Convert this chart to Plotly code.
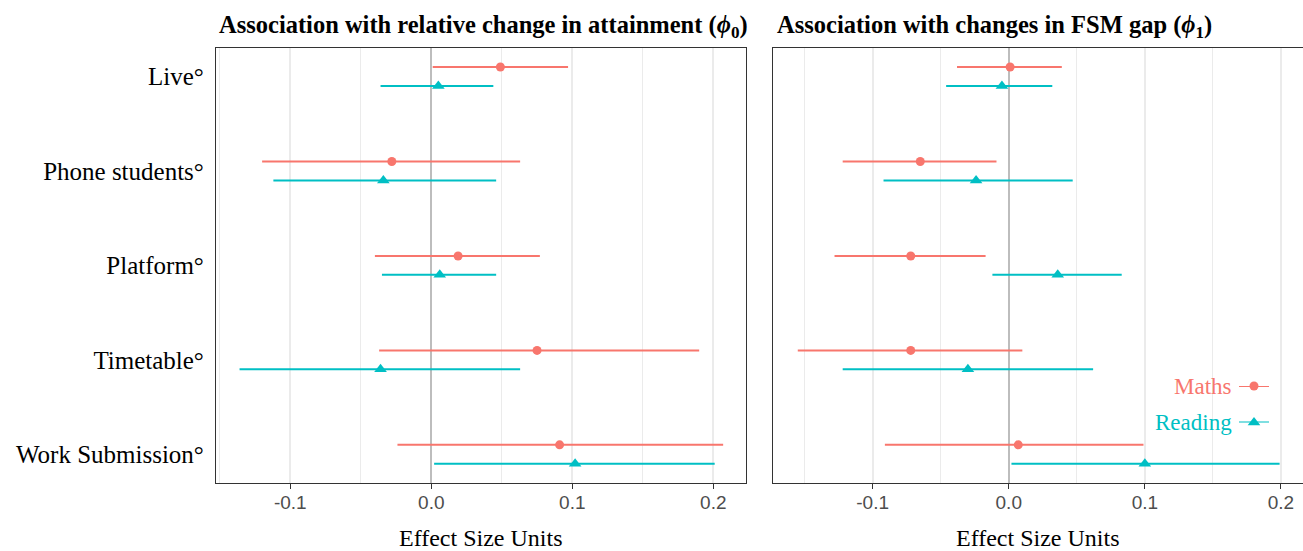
import plotly.graph_objects as go

# Interventions (top to bottom)
categories = ["Live°", "Phone students°", "Platform°", "Timetable°", "Work Submission°"]
tick_values = [-0.1, 0.0, 0.1, 0.2]
tick_labels = ["-0.1", "0.0", "0.1", "0.2"]

# Association with relative change in attainment (phi_0)
maths_est0 = [0.049, -0.028, 0.019, 0.075, 0.091]
maths_lo0 = [0.001, -0.120, -0.040, -0.037, -0.024]
maths_hi0 = [0.097, 0.063, 0.077, 0.190, 0.207]
read_est0 = [0.005, -0.034, 0.006, -0.036, 0.102]
read_lo0 = [-0.036, -0.112, -0.035, -0.136, 0.002]
read_hi0 = [0.044, 0.046, 0.046, 0.063, 0.201]

# Association with changes in FSM gap (phi_1)
maths_est1 = [0.001, -0.065, -0.072, -0.072, 0.007]
maths_lo1 = [-0.038, -0.122, -0.128, -0.155, -0.091]
maths_hi1 = [0.039, -0.009, -0.017, 0.010, 0.099]
read_est1 = [-0.005, -0.024, 0.036, -0.030, 0.100]
read_lo1 = [-0.046, -0.092, -0.012, -0.122, 0.002]
read_hi1 = [0.032, 0.047, 0.083, 0.062, 0.199]

MATHS = "#F8766D"
READING = "#00BFC4"
SERIF = "Liberation Serif, Times New Roman, serif"
SANS = "Liberation Sans, Arial, sans-serif"

W, H = 1303, 551
pos = list(range(1, len(categories) + 1))
dodge = 0.1


def px_x(p):
    return p / W


def px_y(p):
    return 1 - p / H


fig = go.Figure()


def add_series(est, lo, hi, offset, color, symbol, size, xa, ya, name):
    fig.add_trace(go.Scatter(
        x=est,
        y=[p + offset for p in pos],
        mode="markers",
        name=name,
        showlegend=False,
        marker=dict(color=color, symbol=symbol, size=size, line=dict(width=0)),
        error_x=dict(
            type="data", symmetric=False,
            array=[h - e for h, e in zip(hi, est)],
            arrayminus=[e - l for e, l in zip(est, lo)],
            color=color, thickness=2, width=0,
        ),
        xaxis=xa, yaxis=ya,
    ))


add_series(maths_est0, maths_lo0, maths_hi0, -dodge, MATHS, "circle", 9, "x", "y", "Maths")
add_series(read_est0, read_lo0, read_hi0, dodge, READING, "triangle-up", 11, "x", "y", "Reading")
add_series(maths_est1, maths_lo1, maths_hi1, -dodge, MATHS, "circle", 9, "x2", "y2", "Maths")
add_series(read_est1, read_lo1, read_hi1, dodge, READING, "triangle-up", 11, "x2", "y2", "Reading")

# Legend keys drawn on a small hidden axis pair
for yk, color, symbol, size in [(1, MATHS, "circle", 9), (0, READING, "triangle-up", 11)]:
    fig.add_trace(go.Scatter(
        x=[0, 1], y=[yk, yk], mode="lines",
        line=dict(color=color, width=2), cliponaxis=False,
        showlegend=False, hoverinfo="skip", xaxis="x3", yaxis="y3",
    ))
    fig.add_trace(go.Scatter(
        x=[0.5], y=[yk], mode="markers", cliponaxis=False,
        marker=dict(color=color, symbol=symbol, size=size, line=dict(width=0)),
        showlegend=False, hoverinfo="skip", xaxis="x3", yaxis="y3",
    ))

grid_major = dict(showgrid=True, gridcolor="#ebebeb", gridwidth=1.6)
minor = dict(tickvals=[-0.15, -0.05, 0.05, 0.15], showgrid=True,
             gridcolor="#ebebeb", gridwidth=0.8, ticks="")
xcommon = dict(
    tickvals=tick_values, ticktext=tick_labels,
    tickfont=dict(family=SANS, size=19, color="#4d4d4d"),
    ticks="outside", ticklen=5, tickwidth=1.3, tickcolor="#333333",
    ticklabelstandoff=-3,
    showline=True, mirror=True, linecolor="#333333", linewidth=1.3,
    zeroline=True, zerolinecolor="#bdbdbd", zerolinewidth=2.2,
    minor=minor, **grid_major,
)
ydom = [px_y(483.3), px_y(47.5)]
ycommon = dict(
    range=[5.307, 0.693], domain=ydom, showgrid=False, zeroline=False,
    showline=True, mirror=True, linecolor="#333333", linewidth=1.3,
    tickvals=pos, ticks="",
)

fig.update_layout(
    width=W, height=H,
    margin=dict(l=0, r=0, t=0, b=0),
    paper_bgcolor="white", plot_bgcolor="white",
    xaxis=dict(xcommon, domain=[px_x(216), px_x(746)], range=[-0.1527, 0.2232], anchor="y"),
    xaxis2=dict(xcommon, domain=[px_x(773), 1.0], range=[-0.1732, 0.2162], anchor="y2"),
    yaxis=dict(ycommon, anchor="x", ticktext=categories,
               tickfont=dict(family=SERIF, size=25, color="black"),
               ticklabelstandoff=6),
    yaxis2=dict(ycommon, anchor="x2", showticklabels=False),
    xaxis3=dict(domain=[px_x(1239), px_x(1269)], range=[0, 1], visible=False, anchor="y3"),
    yaxis3=dict(domain=[px_y(422.4), px_y(386)], range=[0, 1], visible=False, anchor="x3"),
    showlegend=False,
)

# Legend background and labels
fig.add_shape(type="rect", xref="paper", yref="paper",
              x0=px_x(1150), x1=1.0, y0=px_y(453), y1=px_y(366),
              fillcolor="white", line=dict(width=0), layer="between")
for label, color, yp in [("Maths", MATHS, 386), ("Reading", READING, 422.4)]:
    fig.add_annotation(text=label, xref="paper", yref="paper",
                       x=px_x(1234), y=px_y(yp), xanchor="right", yanchor="middle",
                       showarrow=False, font=dict(family=SERIF, size=23, color=color))

# Panel titles
titles = [
    ("Association with relative change in attainment (<i>ϕ</i><sub>0</sub>)", 217),
    ("Association with changes in FSM gap (<i>ϕ</i><sub>1</sub>)", 775),
]
for text, xp in titles:
    fig.add_annotation(text="<b>" + text + "</b>", xref="paper", yref="paper",
                       x=px_x(xp), y=px_y(26), xanchor="left", yanchor="middle",
                       showarrow=False, font=dict(family=SERIF, size=24.5, color="black"))

# Axis titles
for xc in [(216 + 746) / 2, (773 + 1303) / 2]:
    fig.add_annotation(text="Effect Size Units", xref="paper", yref="paper",
                       x=px_x(xc), y=px_y(538), xanchor="center", yanchor="middle",
                       showarrow=False, font=dict(family=SERIF, size=24, color="black"))

fig.write_html("out.html")
